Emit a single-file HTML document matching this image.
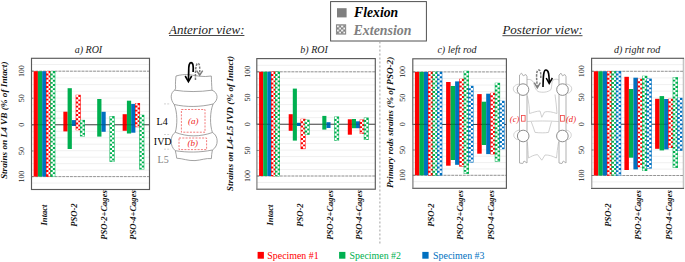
<!DOCTYPE html><html><head><meta charset="utf-8"><style>html,body{margin:0;padding:0;background:#fff;overflow:hidden}svg{display:block}text{font-family:"Liberation Serif",serif}</style></head><body>
<svg width="685" height="262" viewBox="0 0 685 262">
<defs>
<pattern id="pr" width="4.2" height="4.2" patternUnits="userSpaceOnUse"><rect width="4.2" height="4.2" fill="#ff0000"/><rect x="0.1" y="0.1" width="1.9" height="1.9" fill="#fff"/><rect x="2.2" y="2.2" width="1.9" height="1.9" fill="#fff"/></pattern>
<pattern id="pg" width="4.2" height="4.2" patternUnits="userSpaceOnUse"><rect width="4.2" height="4.2" fill="#00b050"/><rect x="0.1" y="0.1" width="1.9" height="1.9" fill="#fff"/><rect x="2.2" y="2.2" width="1.9" height="1.9" fill="#fff"/></pattern>
<pattern id="pb" width="4.2" height="4.2" patternUnits="userSpaceOnUse"><rect width="4.2" height="4.2" fill="#0070c0"/><rect x="0.1" y="0.1" width="1.9" height="1.9" fill="#fff"/><rect x="2.2" y="2.2" width="1.9" height="1.9" fill="#fff"/></pattern>
<pattern id="pk" width="4.2" height="4.2" patternUnits="userSpaceOnUse"><rect width="4.2" height="4.2" fill="#808080"/><rect x="0.1" y="0.1" width="1.9" height="1.9" fill="#fff"/><rect x="2.2" y="2.2" width="1.9" height="1.9" fill="#fff"/></pattern>
<pattern id="qr" width="4" height="4" patternUnits="userSpaceOnUse"><rect width="4" height="4" fill="#ff0000"/><rect width="2" height="2" fill="#fff"/><rect x="2" y="2" width="2" height="2" fill="#fff"/></pattern>
<pattern id="qg" width="4" height="4" patternUnits="userSpaceOnUse"><rect width="4" height="4" fill="#00b050"/><rect width="2" height="2" fill="#fff"/><rect x="2" y="2" width="2" height="2" fill="#fff"/></pattern>
<pattern id="qb" width="4" height="4" patternUnits="userSpaceOnUse"><rect width="4" height="4" fill="#0070c0"/><rect width="2" height="2" fill="#fff"/><rect x="2" y="2" width="2" height="2" fill="#fff"/></pattern>
</defs>
<rect width="685" height="262" fill="#fff"/>
<line x1="31.5" y1="118.1" x2="149.5" y2="118.1" stroke="#ececec" stroke-width="0.8"/>
<line x1="31.5" y1="111.4" x2="149.5" y2="111.4" stroke="#ececec" stroke-width="0.8"/>
<line x1="31.5" y1="104.7" x2="149.5" y2="104.7" stroke="#ececec" stroke-width="0.8"/>
<line x1="31.5" y1="98" x2="149.5" y2="98" stroke="#ececec" stroke-width="0.8"/>
<line x1="31.5" y1="91.3" x2="149.5" y2="91.3" stroke="#ececec" stroke-width="0.8"/>
<line x1="31.5" y1="84.6" x2="149.5" y2="84.6" stroke="#ececec" stroke-width="0.8"/>
<line x1="31.5" y1="77.9" x2="149.5" y2="77.9" stroke="#ececec" stroke-width="0.8"/>
<line x1="31.5" y1="71.2" x2="149.5" y2="71.2" stroke="#ececec" stroke-width="0.8"/>
<line x1="31.5" y1="64.5" x2="149.5" y2="64.5" stroke="#ececec" stroke-width="0.8"/>
<line x1="31.5" y1="131.28" x2="149.5" y2="131.28" stroke="#ececec" stroke-width="0.8"/>
<line x1="31.5" y1="137.75" x2="149.5" y2="137.75" stroke="#ececec" stroke-width="0.8"/>
<line x1="31.5" y1="144.22" x2="149.5" y2="144.22" stroke="#ececec" stroke-width="0.8"/>
<line x1="31.5" y1="150.7" x2="149.5" y2="150.7" stroke="#ececec" stroke-width="0.8"/>
<line x1="31.5" y1="157.18" x2="149.5" y2="157.18" stroke="#ececec" stroke-width="0.8"/>
<line x1="31.5" y1="163.65" x2="149.5" y2="163.65" stroke="#ececec" stroke-width="0.8"/>
<line x1="31.5" y1="170.12" x2="149.5" y2="170.12" stroke="#ececec" stroke-width="0.8"/>
<line x1="31.5" y1="176.6" x2="149.5" y2="176.6" stroke="#ececec" stroke-width="0.8"/>
<line x1="31.5" y1="183.07" x2="149.5" y2="183.07" stroke="#ececec" stroke-width="0.8"/>
<line x1="31.5" y1="71.2" x2="149.5" y2="71.2" stroke="#8a8a8a" stroke-width="0.9" stroke-dasharray="2.85 1"/>
<line x1="31.5" y1="176.6" x2="149.5" y2="176.6" stroke="#8a8a8a" stroke-width="0.9" stroke-dasharray="2.85 1"/>
<line x1="31.5" y1="124.8" x2="149.5" y2="124.8" stroke="#5c5c5c" stroke-width="1.05"/>
<rect x="33.65" y="71.2" width="4.25" height="105.4" fill="#ff0000"/>
<rect x="37.9" y="71.2" width="4.25" height="105.4" fill="#00b050"/>
<rect x="42.15" y="71.2" width="4.25" height="105.4" fill="#0070c0"/>
<rect x="63.35" y="111.7" width="4.25" height="19.7" fill="#ff0000"/>
<rect x="67.6" y="88.2" width="4.25" height="60.8" fill="#00b050"/>
<rect x="71.85" y="120.1" width="4.25" height="5.9" fill="#0070c0"/>
<rect x="97.2" y="99" width="4.25" height="37.6" fill="#00b050"/>
<rect x="101.45" y="111.8" width="4.25" height="20" fill="#0070c0"/>
<rect x="122.65" y="114.2" width="4.25" height="16.6" fill="#ff0000"/>
<rect x="126.9" y="100.7" width="4.25" height="32.8" fill="#00b050"/>
<rect x="131.15" y="103.9" width="4.25" height="28.8" fill="#0070c0"/>
<line x1="31.5" y1="124.8" x2="149.5" y2="124.8" stroke="#000" stroke-opacity="0.22" stroke-width="1.1"/>
<rect x="46" y="71" width="5.05" height="105.8" fill="#ff0000"/>
<path d="M46.52 71.32h2.09v2.2h-2.09zM48.45 73.32h2.09v2.3h-2.09zM46.52 75.42h2.09v2.3h-2.09zM48.45 77.52h2.09v2.3h-2.09zM46.52 79.62h2.09v2.3h-2.09zM48.45 81.72h2.09v2.3h-2.09zM46.52 83.82h2.09v2.3h-2.09zM48.45 85.92h2.09v2.3h-2.09zM46.52 88.02h2.09v2.3h-2.09zM48.45 90.12h2.09v2.3h-2.09zM46.52 92.22h2.09v2.3h-2.09zM48.45 94.32h2.09v2.3h-2.09zM46.52 96.42h2.09v2.3h-2.09zM48.45 98.52h2.09v2.3h-2.09zM46.52 100.62h2.09v2.3h-2.09zM48.45 102.72h2.09v2.3h-2.09zM46.52 104.82h2.09v2.3h-2.09zM48.45 106.92h2.09v2.3h-2.09zM46.52 109.02h2.09v2.3h-2.09zM48.45 111.12h2.09v2.3h-2.09zM46.52 113.22h2.09v2.3h-2.09zM48.45 115.32h2.09v2.3h-2.09zM46.52 117.42h2.09v2.3h-2.09zM48.45 119.52h2.09v2.3h-2.09zM46.52 121.62h2.09v2.3h-2.09zM48.45 123.72h2.09v2.3h-2.09zM46.52 125.82h2.09v2.3h-2.09zM48.45 127.92h2.09v2.3h-2.09zM46.52 130.02h2.09v2.3h-2.09zM48.45 132.12h2.09v2.3h-2.09zM46.52 134.22h2.09v2.3h-2.09zM48.45 136.32h2.09v2.3h-2.09zM46.52 138.42h2.09v2.3h-2.09zM48.45 140.52h2.09v2.3h-2.09zM46.52 142.62h2.09v2.3h-2.09zM48.45 144.72h2.09v2.3h-2.09zM46.52 146.82h2.09v2.3h-2.09zM48.45 148.92h2.09v2.3h-2.09zM46.52 151.02h2.09v2.3h-2.09zM48.45 153.12h2.09v2.3h-2.09zM46.52 155.22h2.09v2.3h-2.09zM48.45 157.32h2.09v2.3h-2.09zM46.52 159.42h2.09v2.3h-2.09zM48.45 161.52h2.09v2.3h-2.09zM46.52 163.62h2.09v2.3h-2.09zM48.45 165.72h2.09v2.3h-2.09zM46.52 167.82h2.09v2.3h-2.09zM48.45 169.92h2.09v2.3h-2.09zM46.52 172.02h2.09v2.3h-2.09zM48.45 174.12h2.09v2.3h-2.09z" fill="#fff"/>
<rect x="50.25" y="71" width="5.05" height="105.8" fill="#00b050"/>
<path d="M50.77 71.32h2.09v2.2h-2.09zM52.7 73.32h2.09v2.3h-2.09zM50.77 75.42h2.09v2.3h-2.09zM52.7 77.52h2.09v2.3h-2.09zM50.77 79.62h2.09v2.3h-2.09zM52.7 81.72h2.09v2.3h-2.09zM50.77 83.82h2.09v2.3h-2.09zM52.7 85.92h2.09v2.3h-2.09zM50.77 88.02h2.09v2.3h-2.09zM52.7 90.12h2.09v2.3h-2.09zM50.77 92.22h2.09v2.3h-2.09zM52.7 94.32h2.09v2.3h-2.09zM50.77 96.42h2.09v2.3h-2.09zM52.7 98.52h2.09v2.3h-2.09zM50.77 100.62h2.09v2.3h-2.09zM52.7 102.72h2.09v2.3h-2.09zM50.77 104.82h2.09v2.3h-2.09zM52.7 106.92h2.09v2.3h-2.09zM50.77 109.02h2.09v2.3h-2.09zM52.7 111.12h2.09v2.3h-2.09zM50.77 113.22h2.09v2.3h-2.09zM52.7 115.32h2.09v2.3h-2.09zM50.77 117.42h2.09v2.3h-2.09zM52.7 119.52h2.09v2.3h-2.09zM50.77 121.62h2.09v2.3h-2.09zM52.7 123.72h2.09v2.3h-2.09zM50.77 125.82h2.09v2.3h-2.09zM52.7 127.92h2.09v2.3h-2.09zM50.77 130.02h2.09v2.3h-2.09zM52.7 132.12h2.09v2.3h-2.09zM50.77 134.22h2.09v2.3h-2.09zM52.7 136.32h2.09v2.3h-2.09zM50.77 138.42h2.09v2.3h-2.09zM52.7 140.52h2.09v2.3h-2.09zM50.77 142.62h2.09v2.3h-2.09zM52.7 144.72h2.09v2.3h-2.09zM50.77 146.82h2.09v2.3h-2.09zM52.7 148.92h2.09v2.3h-2.09zM50.77 151.02h2.09v2.3h-2.09zM52.7 153.12h2.09v2.3h-2.09zM50.77 155.22h2.09v2.3h-2.09zM52.7 157.32h2.09v2.3h-2.09zM50.77 159.42h2.09v2.3h-2.09zM52.7 161.52h2.09v2.3h-2.09zM50.77 163.62h2.09v2.3h-2.09zM52.7 165.72h2.09v2.3h-2.09zM50.77 167.82h2.09v2.3h-2.09zM52.7 169.92h2.09v2.3h-2.09zM50.77 172.02h2.09v2.3h-2.09zM52.7 174.12h2.09v2.3h-2.09z" fill="#fff"/>
<rect x="75.7" y="94.8" width="5.05" height="35.4" fill="#ff0000"/>
<path d="M76.22 95.12h2.08v2.2h-2.08zM78.14 97.12h2.08v2.3h-2.08zM76.22 99.22h2.08v2.3h-2.08zM78.14 101.32h2.08v2.3h-2.08zM76.22 103.42h2.08v2.3h-2.08zM78.14 105.52h2.08v2.3h-2.08zM76.22 107.62h2.08v2.3h-2.08zM78.14 109.72h2.08v2.3h-2.08zM76.22 111.82h2.08v2.3h-2.08zM78.14 113.92h2.08v2.3h-2.08zM76.22 116.02h2.08v2.3h-2.08zM78.14 118.12h2.08v2.3h-2.08zM76.22 120.22h2.08v2.3h-2.08zM78.14 122.32h2.08v2.3h-2.08zM76.22 124.42h2.08v2.3h-2.08zM78.14 126.52h2.08v2.3h-2.08zM76.22 128.62h2.08v1.26h-2.08z" fill="#fff"/>
<rect x="79.95" y="119.9" width="5.05" height="16.5" fill="#00b050"/>
<path d="M80.47 120.22h2.08v2.2h-2.08zM82.39 122.22h2.08v2.3h-2.08zM80.47 124.32h2.08v2.3h-2.08zM82.39 126.42h2.08v2.3h-2.08zM80.47 128.52h2.08v2.3h-2.08zM82.39 130.62h2.08v2.3h-2.08zM80.47 132.72h2.08v2.3h-2.08zM82.39 134.82h2.08v1.26h-2.08z" fill="#fff"/>
<rect x="109.55" y="116.1" width="5.05" height="45.7" fill="#00b050"/>
<path d="M110.07 116.42h2.08v2.2h-2.08zM112 118.42h2.08v2.3h-2.08zM110.07 120.52h2.08v2.3h-2.08zM112 122.62h2.08v2.3h-2.08zM110.07 124.72h2.08v2.3h-2.08zM112 126.82h2.08v2.3h-2.08zM110.07 128.92h2.08v2.3h-2.08zM112 131.02h2.08v2.3h-2.08zM110.07 133.12h2.08v2.3h-2.08zM112 135.22h2.08v2.3h-2.08zM110.07 137.32h2.08v2.3h-2.08zM112 139.42h2.08v2.3h-2.08zM110.07 141.52h2.08v2.3h-2.08zM112 143.62h2.08v2.3h-2.08zM110.07 145.72h2.08v2.3h-2.08zM112 147.82h2.08v2.3h-2.08zM110.07 149.92h2.08v2.3h-2.08zM112 152.02h2.08v2.3h-2.08zM110.07 154.12h2.08v2.3h-2.08zM112 156.22h2.08v2.3h-2.08zM110.07 158.32h2.08v2.3h-2.08zM112 160.42h2.08v1.06h-2.08z" fill="#fff"/>
<rect x="135" y="103" width="5.05" height="24.2" fill="#ff0000"/>
<path d="M135.52 103.32h2.09v2.2h-2.09zM137.44 105.32h2.09v2.3h-2.09zM135.52 107.42h2.09v2.3h-2.09zM137.44 109.52h2.09v2.3h-2.09zM135.52 111.62h2.09v2.3h-2.09zM137.44 113.72h2.09v2.3h-2.09zM135.52 115.82h2.09v2.3h-2.09zM137.44 117.92h2.09v2.3h-2.09zM135.52 120.02h2.09v2.3h-2.09zM137.44 122.12h2.09v2.3h-2.09zM135.52 124.22h2.09v2.3h-2.09zM137.44 126.32h2.09v0.56h-2.09z" fill="#fff"/>
<rect x="139.25" y="114.8" width="5.05" height="54.7" fill="#00b050"/>
<path d="M139.77 115.12h2.09v2.2h-2.09zM141.69 117.12h2.09v2.3h-2.09zM139.77 119.22h2.09v2.3h-2.09zM141.69 121.32h2.09v2.3h-2.09zM139.77 123.42h2.09v2.3h-2.09zM141.69 125.52h2.09v2.3h-2.09zM139.77 127.62h2.09v2.3h-2.09zM141.69 129.72h2.09v2.3h-2.09zM139.77 131.82h2.09v2.3h-2.09zM141.69 133.92h2.09v2.3h-2.09zM139.77 136.02h2.09v2.3h-2.09zM141.69 138.12h2.09v2.3h-2.09zM139.77 140.22h2.09v2.3h-2.09zM141.69 142.32h2.09v2.3h-2.09zM139.77 144.42h2.09v2.3h-2.09zM141.69 146.52h2.09v2.3h-2.09zM139.77 148.62h2.09v2.3h-2.09zM141.69 150.72h2.09v2.3h-2.09zM139.77 152.82h2.09v2.3h-2.09zM141.69 154.92h2.09v2.3h-2.09zM139.77 157.02h2.09v2.3h-2.09zM141.69 159.12h2.09v2.3h-2.09zM139.77 161.22h2.09v2.3h-2.09zM141.69 163.32h2.09v2.3h-2.09zM139.77 165.42h2.09v2.3h-2.09zM141.69 167.52h2.09v1.66h-2.09z" fill="#fff"/>
<rect x="31.5" y="58.3" width="118" height="131.2" fill="none" stroke="#5a5a5a" stroke-width="1.15"/>
<line x1="31.5" y1="71.2" x2="33.5" y2="71.2" stroke="#6e6e6e" stroke-width="0.8"/>
<text transform="translate(24.1,71.2) rotate(-90)" text-anchor="middle" font-size="7.9" fill="#222" text-rendering="geometricPrecision">100</text>
<line x1="31.5" y1="98.2" x2="33.5" y2="98.2" stroke="#6e6e6e" stroke-width="0.8"/>
<text transform="translate(24.1,98.2) rotate(-90)" text-anchor="middle" font-size="7.9" fill="#222" text-rendering="geometricPrecision">50</text>
<line x1="31.5" y1="124.8" x2="33.5" y2="124.8" stroke="#6e6e6e" stroke-width="0.8"/>
<text transform="translate(24.1,124.8) rotate(-90)" text-anchor="middle" font-size="7.9" fill="#222" text-rendering="geometricPrecision">0</text>
<line x1="31.5" y1="151" x2="33.5" y2="151" stroke="#6e6e6e" stroke-width="0.8"/>
<text transform="translate(24.1,151) rotate(-90)" text-anchor="middle" font-size="7.9" fill="#222" text-rendering="geometricPrecision">50</text>
<line x1="31.5" y1="176.6" x2="33.5" y2="176.6" stroke="#6e6e6e" stroke-width="0.8"/>
<text transform="translate(24.1,176.6) rotate(-90)" text-anchor="middle" font-size="7.9" fill="#222" text-rendering="geometricPrecision">100</text>
<line x1="256.8" y1="117.65" x2="375.3" y2="117.65" stroke="#ececec" stroke-width="0.8"/>
<line x1="256.8" y1="111.1" x2="375.3" y2="111.1" stroke="#ececec" stroke-width="0.8"/>
<line x1="256.8" y1="104.55" x2="375.3" y2="104.55" stroke="#ececec" stroke-width="0.8"/>
<line x1="256.8" y1="98" x2="375.3" y2="98" stroke="#ececec" stroke-width="0.8"/>
<line x1="256.8" y1="91.45" x2="375.3" y2="91.45" stroke="#ececec" stroke-width="0.8"/>
<line x1="256.8" y1="84.9" x2="375.3" y2="84.9" stroke="#ececec" stroke-width="0.8"/>
<line x1="256.8" y1="78.35" x2="375.3" y2="78.35" stroke="#ececec" stroke-width="0.8"/>
<line x1="256.8" y1="71.8" x2="375.3" y2="71.8" stroke="#ececec" stroke-width="0.8"/>
<line x1="256.8" y1="65.25" x2="375.3" y2="65.25" stroke="#ececec" stroke-width="0.8"/>
<line x1="256.8" y1="130.68" x2="375.3" y2="130.68" stroke="#ececec" stroke-width="0.8"/>
<line x1="256.8" y1="137.15" x2="375.3" y2="137.15" stroke="#ececec" stroke-width="0.8"/>
<line x1="256.8" y1="143.62" x2="375.3" y2="143.62" stroke="#ececec" stroke-width="0.8"/>
<line x1="256.8" y1="150.1" x2="375.3" y2="150.1" stroke="#ececec" stroke-width="0.8"/>
<line x1="256.8" y1="156.57" x2="375.3" y2="156.57" stroke="#ececec" stroke-width="0.8"/>
<line x1="256.8" y1="163.05" x2="375.3" y2="163.05" stroke="#ececec" stroke-width="0.8"/>
<line x1="256.8" y1="169.53" x2="375.3" y2="169.53" stroke="#ececec" stroke-width="0.8"/>
<line x1="256.8" y1="176" x2="375.3" y2="176" stroke="#ececec" stroke-width="0.8"/>
<line x1="256.8" y1="182.47" x2="375.3" y2="182.47" stroke="#ececec" stroke-width="0.8"/>
<line x1="256.8" y1="71.8" x2="375.3" y2="71.8" stroke="#8a8a8a" stroke-width="0.9" stroke-dasharray="2.85 1"/>
<line x1="256.8" y1="176" x2="375.3" y2="176" stroke="#8a8a8a" stroke-width="0.9" stroke-dasharray="2.85 1"/>
<line x1="256.8" y1="124.2" x2="375.3" y2="124.2" stroke="#5c5c5c" stroke-width="1.05"/>
<rect x="259.1" y="71.8" width="4.1" height="104.2" fill="#ff0000"/>
<rect x="263.2" y="71.8" width="4.1" height="104.2" fill="#00b050"/>
<rect x="267.3" y="71.8" width="4.1" height="104.2" fill="#0070c0"/>
<rect x="288.7" y="114.2" width="4.1" height="16.6" fill="#ff0000"/>
<rect x="292.8" y="88.6" width="4.1" height="52" fill="#00b050"/>
<rect x="296.9" y="122.8" width="4.1" height="3.2" fill="#0070c0"/>
<rect x="322.3" y="115.9" width="4.1" height="13.7" fill="#00b050"/>
<rect x="326.4" y="122.2" width="4.1" height="5.8" fill="#0070c0"/>
<rect x="347.8" y="119.3" width="4.1" height="15.4" fill="#ff0000"/>
<rect x="351.9" y="119" width="4.1" height="9.2" fill="#00b050"/>
<rect x="356" y="121.3" width="4.1" height="6.9" fill="#0070c0"/>
<line x1="256.8" y1="124.2" x2="375.3" y2="124.2" stroke="#000" stroke-opacity="0.22" stroke-width="1.1"/>
<rect x="271" y="71.6" width="4.9" height="104.6" fill="#ff0000"/>
<path d="M271.52 71.92h2.01v2.2h-2.01zM273.37 73.92h2.01v2.3h-2.01zM271.52 76.02h2.01v2.3h-2.01zM273.37 78.12h2.01v2.3h-2.01zM271.52 80.22h2.01v2.3h-2.01zM273.37 82.32h2.01v2.3h-2.01zM271.52 84.42h2.01v2.3h-2.01zM273.37 86.52h2.01v2.3h-2.01zM271.52 88.62h2.01v2.3h-2.01zM273.37 90.72h2.01v2.3h-2.01zM271.52 92.82h2.01v2.3h-2.01zM273.37 94.92h2.01v2.3h-2.01zM271.52 97.02h2.01v2.3h-2.01zM273.37 99.12h2.01v2.3h-2.01zM271.52 101.22h2.01v2.3h-2.01zM273.37 103.32h2.01v2.3h-2.01zM271.52 105.42h2.01v2.3h-2.01zM273.37 107.52h2.01v2.3h-2.01zM271.52 109.62h2.01v2.3h-2.01zM273.37 111.72h2.01v2.3h-2.01zM271.52 113.82h2.01v2.3h-2.01zM273.37 115.92h2.01v2.3h-2.01zM271.52 118.02h2.01v2.3h-2.01zM273.37 120.12h2.01v2.3h-2.01zM271.52 122.22h2.01v2.3h-2.01zM273.37 124.32h2.01v2.3h-2.01zM271.52 126.42h2.01v2.3h-2.01zM273.37 128.52h2.01v2.3h-2.01zM271.52 130.62h2.01v2.3h-2.01zM273.37 132.72h2.01v2.3h-2.01zM271.52 134.82h2.01v2.3h-2.01zM273.37 136.92h2.01v2.3h-2.01zM271.52 139.02h2.01v2.3h-2.01zM273.37 141.12h2.01v2.3h-2.01zM271.52 143.22h2.01v2.3h-2.01zM273.37 145.32h2.01v2.3h-2.01zM271.52 147.42h2.01v2.3h-2.01zM273.37 149.52h2.01v2.3h-2.01zM271.52 151.62h2.01v2.3h-2.01zM273.37 153.72h2.01v2.3h-2.01zM271.52 155.82h2.01v2.3h-2.01zM273.37 157.92h2.01v2.3h-2.01zM271.52 160.02h2.01v2.3h-2.01zM273.37 162.12h2.01v2.3h-2.01zM271.52 164.22h2.01v2.3h-2.01zM273.37 166.32h2.01v2.3h-2.01zM271.52 168.42h2.01v2.3h-2.01zM273.37 170.52h2.01v2.3h-2.01zM271.52 172.62h2.01v2.3h-2.01zM273.37 174.72h2.01v1.16h-2.01z" fill="#fff"/>
<rect x="275.1" y="71.6" width="4.9" height="104.6" fill="#00b050"/>
<path d="M275.62 71.92h2.01v2.2h-2.01zM277.47 73.92h2.01v2.3h-2.01zM275.62 76.02h2.01v2.3h-2.01zM277.47 78.12h2.01v2.3h-2.01zM275.62 80.22h2.01v2.3h-2.01zM277.47 82.32h2.01v2.3h-2.01zM275.62 84.42h2.01v2.3h-2.01zM277.47 86.52h2.01v2.3h-2.01zM275.62 88.62h2.01v2.3h-2.01zM277.47 90.72h2.01v2.3h-2.01zM275.62 92.82h2.01v2.3h-2.01zM277.47 94.92h2.01v2.3h-2.01zM275.62 97.02h2.01v2.3h-2.01zM277.47 99.12h2.01v2.3h-2.01zM275.62 101.22h2.01v2.3h-2.01zM277.47 103.32h2.01v2.3h-2.01zM275.62 105.42h2.01v2.3h-2.01zM277.47 107.52h2.01v2.3h-2.01zM275.62 109.62h2.01v2.3h-2.01zM277.47 111.72h2.01v2.3h-2.01zM275.62 113.82h2.01v2.3h-2.01zM277.47 115.92h2.01v2.3h-2.01zM275.62 118.02h2.01v2.3h-2.01zM277.47 120.12h2.01v2.3h-2.01zM275.62 122.22h2.01v2.3h-2.01zM277.47 124.32h2.01v2.3h-2.01zM275.62 126.42h2.01v2.3h-2.01zM277.47 128.52h2.01v2.3h-2.01zM275.62 130.62h2.01v2.3h-2.01zM277.47 132.72h2.01v2.3h-2.01zM275.62 134.82h2.01v2.3h-2.01zM277.47 136.92h2.01v2.3h-2.01zM275.62 139.02h2.01v2.3h-2.01zM277.47 141.12h2.01v2.3h-2.01zM275.62 143.22h2.01v2.3h-2.01zM277.47 145.32h2.01v2.3h-2.01zM275.62 147.42h2.01v2.3h-2.01zM277.47 149.52h2.01v2.3h-2.01zM275.62 151.62h2.01v2.3h-2.01zM277.47 153.72h2.01v2.3h-2.01zM275.62 155.82h2.01v2.3h-2.01zM277.47 157.92h2.01v2.3h-2.01zM275.62 160.02h2.01v2.3h-2.01zM277.47 162.12h2.01v2.3h-2.01zM275.62 164.22h2.01v2.3h-2.01zM277.47 166.32h2.01v2.3h-2.01zM275.62 168.42h2.01v2.3h-2.01zM277.47 170.52h2.01v2.3h-2.01zM275.62 172.62h2.01v2.3h-2.01zM277.47 174.72h2.01v1.16h-2.01z" fill="#fff"/>
<rect x="300.6" y="118.8" width="4.9" height="30.3" fill="#ff0000"/>
<path d="M301.12 119.12h2.01v2.2h-2.01zM302.97 121.12h2.01v2.3h-2.01zM301.12 123.22h2.01v2.3h-2.01zM302.97 125.32h2.01v2.3h-2.01zM301.12 127.42h2.01v2.3h-2.01zM302.97 129.52h2.01v2.3h-2.01zM301.12 131.62h2.01v2.3h-2.01zM302.97 133.72h2.01v2.3h-2.01zM301.12 135.82h2.01v2.3h-2.01zM302.97 137.92h2.01v2.3h-2.01zM301.12 140.02h2.01v2.3h-2.01zM302.97 142.12h2.01v2.3h-2.01zM301.12 144.22h2.01v2.3h-2.01zM302.97 146.32h2.01v2.3h-2.01z" fill="#fff"/>
<rect x="304.7" y="119.7" width="4.9" height="15.1" fill="#00b050"/>
<path d="M305.22 120.02h2.01v2.2h-2.01zM307.07 122.02h2.01v2.3h-2.01zM305.22 124.12h2.01v2.3h-2.01zM307.07 126.22h2.01v2.3h-2.01zM305.22 128.32h2.01v2.3h-2.01zM307.07 130.42h2.01v2.3h-2.01zM305.22 132.52h2.01v1.96h-2.01z" fill="#fff"/>
<rect x="334.2" y="116.5" width="4.9" height="24.2" fill="#00b050"/>
<path d="M334.72 116.82h2.01v2.2h-2.01zM336.57 118.82h2.01v2.3h-2.01zM334.72 120.92h2.01v2.3h-2.01zM336.57 123.02h2.01v2.3h-2.01zM334.72 125.12h2.01v2.3h-2.01zM336.57 127.22h2.01v2.3h-2.01zM334.72 129.32h2.01v2.3h-2.01zM336.57 131.42h2.01v2.3h-2.01zM334.72 133.52h2.01v2.3h-2.01zM336.57 135.62h2.01v2.3h-2.01zM334.72 137.72h2.01v2.3h-2.01zM336.57 139.82h2.01v0.56h-2.01z" fill="#fff"/>
<rect x="359.7" y="119.5" width="4.9" height="14.3" fill="#ff0000"/>
<path d="M360.22 119.82h2.01v2.2h-2.01zM362.07 121.82h2.01v2.3h-2.01zM360.22 123.92h2.01v2.3h-2.01zM362.07 126.02h2.01v2.3h-2.01zM360.22 128.12h2.01v2.3h-2.01zM362.07 130.22h2.01v2.3h-2.01zM360.22 132.32h2.01v1.16h-2.01z" fill="#fff"/>
<rect x="363.8" y="117.6" width="4.9" height="22.3" fill="#00b050"/>
<path d="M364.32 117.92h2.01v2.2h-2.01zM366.17 119.92h2.01v2.3h-2.01zM364.32 122.02h2.01v2.3h-2.01zM366.17 124.12h2.01v2.3h-2.01zM364.32 126.22h2.01v2.3h-2.01zM366.17 128.32h2.01v2.3h-2.01zM364.32 130.42h2.01v2.3h-2.01zM366.17 132.52h2.01v2.3h-2.01zM364.32 134.62h2.01v2.3h-2.01zM366.17 136.72h2.01v2.3h-2.01zM364.32 138.82h2.01v0.76h-2.01z" fill="#fff"/>
<rect x="256.8" y="58.6" width="118.5" height="130.6" fill="none" stroke="#5a5a5a" stroke-width="1.15"/>
<line x1="256.8" y1="124.8" x2="256.8" y2="188.7" stroke="#b4b4b4" stroke-width="1.05"/>
<line x1="256.8" y1="71.8" x2="258.8" y2="71.8" stroke="#6e6e6e" stroke-width="0.8"/>
<text transform="translate(249.6,71.8) rotate(-90)" text-anchor="middle" font-size="7.9" fill="#222" text-rendering="geometricPrecision">100</text>
<line x1="256.8" y1="97.5" x2="258.8" y2="97.5" stroke="#6e6e6e" stroke-width="0.8"/>
<text transform="translate(249.6,97.5) rotate(-90)" text-anchor="middle" font-size="7.9" fill="#222" text-rendering="geometricPrecision">50</text>
<line x1="256.8" y1="124.2" x2="258.8" y2="124.2" stroke="#6e6e6e" stroke-width="0.8"/>
<text transform="translate(249.6,124.2) rotate(-90)" text-anchor="middle" font-size="7.9" fill="#222" text-rendering="geometricPrecision">0</text>
<line x1="256.8" y1="150.5" x2="258.8" y2="150.5" stroke="#6e6e6e" stroke-width="0.8"/>
<text transform="translate(249.6,150.5) rotate(-90)" text-anchor="middle" font-size="7.9" fill="#222" text-rendering="geometricPrecision">50</text>
<line x1="256.8" y1="176" x2="258.8" y2="176" stroke="#6e6e6e" stroke-width="0.8"/>
<text transform="translate(249.6,176) rotate(-90)" text-anchor="middle" font-size="7.9" fill="#222" text-rendering="geometricPrecision">100</text>
<line x1="412.8" y1="117.84" x2="506.4" y2="117.84" stroke="#ececec" stroke-width="0.8"/>
<line x1="412.8" y1="111.28" x2="506.4" y2="111.28" stroke="#ececec" stroke-width="0.8"/>
<line x1="412.8" y1="104.71" x2="506.4" y2="104.71" stroke="#ececec" stroke-width="0.8"/>
<line x1="412.8" y1="98.15" x2="506.4" y2="98.15" stroke="#ececec" stroke-width="0.8"/>
<line x1="412.8" y1="91.59" x2="506.4" y2="91.59" stroke="#ececec" stroke-width="0.8"/>
<line x1="412.8" y1="85.03" x2="506.4" y2="85.03" stroke="#ececec" stroke-width="0.8"/>
<line x1="412.8" y1="78.46" x2="506.4" y2="78.46" stroke="#ececec" stroke-width="0.8"/>
<line x1="412.8" y1="71.9" x2="506.4" y2="71.9" stroke="#ececec" stroke-width="0.8"/>
<line x1="412.8" y1="65.34" x2="506.4" y2="65.34" stroke="#ececec" stroke-width="0.8"/>
<line x1="412.8" y1="130.76" x2="506.4" y2="130.76" stroke="#ececec" stroke-width="0.8"/>
<line x1="412.8" y1="137.12" x2="506.4" y2="137.12" stroke="#ececec" stroke-width="0.8"/>
<line x1="412.8" y1="143.49" x2="506.4" y2="143.49" stroke="#ececec" stroke-width="0.8"/>
<line x1="412.8" y1="149.85" x2="506.4" y2="149.85" stroke="#ececec" stroke-width="0.8"/>
<line x1="412.8" y1="156.21" x2="506.4" y2="156.21" stroke="#ececec" stroke-width="0.8"/>
<line x1="412.8" y1="162.58" x2="506.4" y2="162.58" stroke="#ececec" stroke-width="0.8"/>
<line x1="412.8" y1="168.94" x2="506.4" y2="168.94" stroke="#ececec" stroke-width="0.8"/>
<line x1="412.8" y1="175.3" x2="506.4" y2="175.3" stroke="#ececec" stroke-width="0.8"/>
<line x1="412.8" y1="181.66" x2="506.4" y2="181.66" stroke="#ececec" stroke-width="0.8"/>
<line x1="412.8" y1="71.9" x2="506.4" y2="71.9" stroke="#8a8a8a" stroke-width="0.9" stroke-dasharray="2.85 1"/>
<line x1="412.8" y1="175.3" x2="506.4" y2="175.3" stroke="#8a8a8a" stroke-width="0.9" stroke-dasharray="2.85 1"/>
<line x1="412.8" y1="124.4" x2="506.4" y2="124.4" stroke="#5c5c5c" stroke-width="1.05"/>
<rect x="414.9" y="71.9" width="4.5" height="103.4" fill="#ff0000"/>
<rect x="419.4" y="71.9" width="4.5" height="103.4" fill="#00b050"/>
<rect x="423.9" y="71.9" width="4.5" height="103.4" fill="#0070c0"/>
<rect x="446.1" y="82" width="4.5" height="83.7" fill="#ff0000"/>
<rect x="450.6" y="86" width="4.5" height="74" fill="#00b050"/>
<rect x="455.1" y="81.4" width="4.5" height="83.4" fill="#0070c0"/>
<rect x="477.2" y="94.1" width="4.5" height="59.6" fill="#ff0000"/>
<rect x="481.7" y="101.7" width="4.5" height="43.3" fill="#00b050"/>
<rect x="486.2" y="93.7" width="4.5" height="60.4" fill="#0070c0"/>
<line x1="412.8" y1="124.4" x2="506.4" y2="124.4" stroke="#000" stroke-opacity="0.22" stroke-width="1.1"/>
<rect x="428" y="71.7" width="5.3" height="103.8" fill="#ff0000"/>
<path d="M428.52 72.02h2.21v2.2h-2.21zM430.57 74.02h2.21v2.3h-2.21zM428.52 76.12h2.21v2.3h-2.21zM430.57 78.22h2.21v2.3h-2.21zM428.52 80.32h2.21v2.3h-2.21zM430.57 82.42h2.21v2.3h-2.21zM428.52 84.52h2.21v2.3h-2.21zM430.57 86.62h2.21v2.3h-2.21zM428.52 88.72h2.21v2.3h-2.21zM430.57 90.82h2.21v2.3h-2.21zM428.52 92.92h2.21v2.3h-2.21zM430.57 95.02h2.21v2.3h-2.21zM428.52 97.12h2.21v2.3h-2.21zM430.57 99.22h2.21v2.3h-2.21zM428.52 101.32h2.21v2.3h-2.21zM430.57 103.42h2.21v2.3h-2.21zM428.52 105.52h2.21v2.3h-2.21zM430.57 107.62h2.21v2.3h-2.21zM428.52 109.72h2.21v2.3h-2.21zM430.57 111.82h2.21v2.3h-2.21zM428.52 113.92h2.21v2.3h-2.21zM430.57 116.02h2.21v2.3h-2.21zM428.52 118.12h2.21v2.3h-2.21zM430.57 120.22h2.21v2.3h-2.21zM428.52 122.32h2.21v2.3h-2.21zM430.57 124.42h2.21v2.3h-2.21zM428.52 126.52h2.21v2.3h-2.21zM430.57 128.62h2.21v2.3h-2.21zM428.52 130.72h2.21v2.3h-2.21zM430.57 132.82h2.21v2.3h-2.21zM428.52 134.92h2.21v2.3h-2.21zM430.57 137.02h2.21v2.3h-2.21zM428.52 139.12h2.21v2.3h-2.21zM430.57 141.22h2.21v2.3h-2.21zM428.52 143.32h2.21v2.3h-2.21zM430.57 145.42h2.21v2.3h-2.21zM428.52 147.52h2.21v2.3h-2.21zM430.57 149.62h2.21v2.3h-2.21zM428.52 151.72h2.21v2.3h-2.21zM430.57 153.82h2.21v2.3h-2.21zM428.52 155.92h2.21v2.3h-2.21zM430.57 158.02h2.21v2.3h-2.21zM428.52 160.12h2.21v2.3h-2.21zM430.57 162.22h2.21v2.3h-2.21zM428.52 164.32h2.21v2.3h-2.21zM430.57 166.42h2.21v2.3h-2.21zM428.52 168.52h2.21v2.3h-2.21zM430.57 170.62h2.21v2.3h-2.21zM428.52 172.72h2.21v2.3h-2.21z" fill="#fff"/>
<rect x="432.5" y="71.7" width="5.3" height="103.8" fill="#00b050"/>
<path d="M433.02 72.02h2.21v2.2h-2.21zM435.07 74.02h2.21v2.3h-2.21zM433.02 76.12h2.21v2.3h-2.21zM435.07 78.22h2.21v2.3h-2.21zM433.02 80.32h2.21v2.3h-2.21zM435.07 82.42h2.21v2.3h-2.21zM433.02 84.52h2.21v2.3h-2.21zM435.07 86.62h2.21v2.3h-2.21zM433.02 88.72h2.21v2.3h-2.21zM435.07 90.82h2.21v2.3h-2.21zM433.02 92.92h2.21v2.3h-2.21zM435.07 95.02h2.21v2.3h-2.21zM433.02 97.12h2.21v2.3h-2.21zM435.07 99.22h2.21v2.3h-2.21zM433.02 101.32h2.21v2.3h-2.21zM435.07 103.42h2.21v2.3h-2.21zM433.02 105.52h2.21v2.3h-2.21zM435.07 107.62h2.21v2.3h-2.21zM433.02 109.72h2.21v2.3h-2.21zM435.07 111.82h2.21v2.3h-2.21zM433.02 113.92h2.21v2.3h-2.21zM435.07 116.02h2.21v2.3h-2.21zM433.02 118.12h2.21v2.3h-2.21zM435.07 120.22h2.21v2.3h-2.21zM433.02 122.32h2.21v2.3h-2.21zM435.07 124.42h2.21v2.3h-2.21zM433.02 126.52h2.21v2.3h-2.21zM435.07 128.62h2.21v2.3h-2.21zM433.02 130.72h2.21v2.3h-2.21zM435.07 132.82h2.21v2.3h-2.21zM433.02 134.92h2.21v2.3h-2.21zM435.07 137.02h2.21v2.3h-2.21zM433.02 139.12h2.21v2.3h-2.21zM435.07 141.22h2.21v2.3h-2.21zM433.02 143.32h2.21v2.3h-2.21zM435.07 145.42h2.21v2.3h-2.21zM433.02 147.52h2.21v2.3h-2.21zM435.07 149.62h2.21v2.3h-2.21zM433.02 151.72h2.21v2.3h-2.21zM435.07 153.82h2.21v2.3h-2.21zM433.02 155.92h2.21v2.3h-2.21zM435.07 158.02h2.21v2.3h-2.21zM433.02 160.12h2.21v2.3h-2.21zM435.07 162.22h2.21v2.3h-2.21zM433.02 164.32h2.21v2.3h-2.21zM435.07 166.42h2.21v2.3h-2.21zM433.02 168.52h2.21v2.3h-2.21zM435.07 170.62h2.21v2.3h-2.21zM433.02 172.72h2.21v2.3h-2.21z" fill="#fff"/>
<rect x="437" y="71.7" width="5.3" height="103.8" fill="#0070c0"/>
<path d="M437.52 72.02h2.21v2.2h-2.21zM439.57 74.02h2.21v2.3h-2.21zM437.52 76.12h2.21v2.3h-2.21zM439.57 78.22h2.21v2.3h-2.21zM437.52 80.32h2.21v2.3h-2.21zM439.57 82.42h2.21v2.3h-2.21zM437.52 84.52h2.21v2.3h-2.21zM439.57 86.62h2.21v2.3h-2.21zM437.52 88.72h2.21v2.3h-2.21zM439.57 90.82h2.21v2.3h-2.21zM437.52 92.92h2.21v2.3h-2.21zM439.57 95.02h2.21v2.3h-2.21zM437.52 97.12h2.21v2.3h-2.21zM439.57 99.22h2.21v2.3h-2.21zM437.52 101.32h2.21v2.3h-2.21zM439.57 103.42h2.21v2.3h-2.21zM437.52 105.52h2.21v2.3h-2.21zM439.57 107.62h2.21v2.3h-2.21zM437.52 109.72h2.21v2.3h-2.21zM439.57 111.82h2.21v2.3h-2.21zM437.52 113.92h2.21v2.3h-2.21zM439.57 116.02h2.21v2.3h-2.21zM437.52 118.12h2.21v2.3h-2.21zM439.57 120.22h2.21v2.3h-2.21zM437.52 122.32h2.21v2.3h-2.21zM439.57 124.42h2.21v2.3h-2.21zM437.52 126.52h2.21v2.3h-2.21zM439.57 128.62h2.21v2.3h-2.21zM437.52 130.72h2.21v2.3h-2.21zM439.57 132.82h2.21v2.3h-2.21zM437.52 134.92h2.21v2.3h-2.21zM439.57 137.02h2.21v2.3h-2.21zM437.52 139.12h2.21v2.3h-2.21zM439.57 141.22h2.21v2.3h-2.21zM437.52 143.32h2.21v2.3h-2.21zM439.57 145.42h2.21v2.3h-2.21zM437.52 147.52h2.21v2.3h-2.21zM439.57 149.62h2.21v2.3h-2.21zM437.52 151.72h2.21v2.3h-2.21zM439.57 153.82h2.21v2.3h-2.21zM437.52 155.92h2.21v2.3h-2.21zM439.57 158.02h2.21v2.3h-2.21zM437.52 160.12h2.21v2.3h-2.21zM439.57 162.22h2.21v2.3h-2.21zM437.52 164.32h2.21v2.3h-2.21zM439.57 166.42h2.21v2.3h-2.21zM437.52 168.52h2.21v2.3h-2.21zM439.57 170.62h2.21v2.3h-2.21zM437.52 172.72h2.21v2.3h-2.21z" fill="#fff"/>
<rect x="459.2" y="78.8" width="5.3" height="87.8" fill="#ff0000"/>
<path d="M459.72 79.12h2.21v2.2h-2.21zM461.77 81.12h2.21v2.3h-2.21zM459.72 83.22h2.21v2.3h-2.21zM461.77 85.32h2.21v2.3h-2.21zM459.72 87.42h2.21v2.3h-2.21zM461.77 89.52h2.21v2.3h-2.21zM459.72 91.62h2.21v2.3h-2.21zM461.77 93.72h2.21v2.3h-2.21zM459.72 95.82h2.21v2.3h-2.21zM461.77 97.92h2.21v2.3h-2.21zM459.72 100.02h2.21v2.3h-2.21zM461.77 102.12h2.21v2.3h-2.21zM459.72 104.22h2.21v2.3h-2.21zM461.77 106.32h2.21v2.3h-2.21zM459.72 108.42h2.21v2.3h-2.21zM461.77 110.52h2.21v2.3h-2.21zM459.72 112.62h2.21v2.3h-2.21zM461.77 114.72h2.21v2.3h-2.21zM459.72 116.82h2.21v2.3h-2.21zM461.77 118.92h2.21v2.3h-2.21zM459.72 121.02h2.21v2.3h-2.21zM461.77 123.12h2.21v2.3h-2.21zM459.72 125.22h2.21v2.3h-2.21zM461.77 127.32h2.21v2.3h-2.21zM459.72 129.42h2.21v2.3h-2.21zM461.77 131.52h2.21v2.3h-2.21zM459.72 133.62h2.21v2.3h-2.21zM461.77 135.72h2.21v2.3h-2.21zM459.72 137.82h2.21v2.3h-2.21zM461.77 139.92h2.21v2.3h-2.21zM459.72 142.02h2.21v2.3h-2.21zM461.77 144.12h2.21v2.3h-2.21zM459.72 146.22h2.21v2.3h-2.21zM461.77 148.32h2.21v2.3h-2.21zM459.72 150.42h2.21v2.3h-2.21zM461.77 152.52h2.21v2.3h-2.21zM459.72 154.62h2.21v2.3h-2.21zM461.77 156.72h2.21v2.3h-2.21zM459.72 158.82h2.21v2.3h-2.21zM461.77 160.92h2.21v2.3h-2.21zM459.72 163.02h2.21v2.3h-2.21zM461.77 165.12h2.21v1.16h-2.21z" fill="#fff"/>
<rect x="463.7" y="70.8" width="5.3" height="103.1" fill="#00b050"/>
<path d="M464.22 71.12h2.21v2.2h-2.21zM466.27 73.12h2.21v2.3h-2.21zM464.22 75.22h2.21v2.3h-2.21zM466.27 77.32h2.21v2.3h-2.21zM464.22 79.42h2.21v2.3h-2.21zM466.27 81.52h2.21v2.3h-2.21zM464.22 83.62h2.21v2.3h-2.21zM466.27 85.72h2.21v2.3h-2.21zM464.22 87.82h2.21v2.3h-2.21zM466.27 89.92h2.21v2.3h-2.21zM464.22 92.02h2.21v2.3h-2.21zM466.27 94.12h2.21v2.3h-2.21zM464.22 96.22h2.21v2.3h-2.21zM466.27 98.32h2.21v2.3h-2.21zM464.22 100.42h2.21v2.3h-2.21zM466.27 102.52h2.21v2.3h-2.21zM464.22 104.62h2.21v2.3h-2.21zM466.27 106.72h2.21v2.3h-2.21zM464.22 108.82h2.21v2.3h-2.21zM466.27 110.92h2.21v2.3h-2.21zM464.22 113.02h2.21v2.3h-2.21zM466.27 115.12h2.21v2.3h-2.21zM464.22 117.22h2.21v2.3h-2.21zM466.27 119.32h2.21v2.3h-2.21zM464.22 121.42h2.21v2.3h-2.21zM466.27 123.52h2.21v2.3h-2.21zM464.22 125.62h2.21v2.3h-2.21zM466.27 127.72h2.21v2.3h-2.21zM464.22 129.82h2.21v2.3h-2.21zM466.27 131.92h2.21v2.3h-2.21zM464.22 134.02h2.21v2.3h-2.21zM466.27 136.12h2.21v2.3h-2.21zM464.22 138.22h2.21v2.3h-2.21zM466.27 140.32h2.21v2.3h-2.21zM464.22 142.42h2.21v2.3h-2.21zM466.27 144.52h2.21v2.3h-2.21zM464.22 146.62h2.21v2.3h-2.21zM466.27 148.72h2.21v2.3h-2.21zM464.22 150.82h2.21v2.3h-2.21zM466.27 152.92h2.21v2.3h-2.21zM464.22 155.02h2.21v2.3h-2.21zM466.27 157.12h2.21v2.3h-2.21zM464.22 159.22h2.21v2.3h-2.21zM466.27 161.32h2.21v2.3h-2.21zM464.22 163.42h2.21v2.3h-2.21zM466.27 165.52h2.21v2.3h-2.21zM464.22 167.62h2.21v2.3h-2.21zM466.27 169.72h2.21v2.3h-2.21zM464.22 171.82h2.21v1.76h-2.21z" fill="#fff"/>
<rect x="468.2" y="85.8" width="5.3" height="76.8" fill="#0070c0"/>
<path d="M468.72 86.12h2.21v2.2h-2.21zM470.77 88.12h2.21v2.3h-2.21zM468.72 90.22h2.21v2.3h-2.21zM470.77 92.32h2.21v2.3h-2.21zM468.72 94.42h2.21v2.3h-2.21zM470.77 96.52h2.21v2.3h-2.21zM468.72 98.62h2.21v2.3h-2.21zM470.77 100.72h2.21v2.3h-2.21zM468.72 102.82h2.21v2.3h-2.21zM470.77 104.92h2.21v2.3h-2.21zM468.72 107.02h2.21v2.3h-2.21zM470.77 109.12h2.21v2.3h-2.21zM468.72 111.22h2.21v2.3h-2.21zM470.77 113.32h2.21v2.3h-2.21zM468.72 115.42h2.21v2.3h-2.21zM470.77 117.52h2.21v2.3h-2.21zM468.72 119.62h2.21v2.3h-2.21zM470.77 121.72h2.21v2.3h-2.21zM468.72 123.82h2.21v2.3h-2.21zM470.77 125.92h2.21v2.3h-2.21zM468.72 128.02h2.21v2.3h-2.21zM470.77 130.12h2.21v2.3h-2.21zM468.72 132.22h2.21v2.3h-2.21zM470.77 134.32h2.21v2.3h-2.21zM468.72 136.42h2.21v2.3h-2.21zM470.77 138.52h2.21v2.3h-2.21zM468.72 140.62h2.21v2.3h-2.21zM470.77 142.72h2.21v2.3h-2.21zM468.72 144.82h2.21v2.3h-2.21zM470.77 146.92h2.21v2.3h-2.21zM468.72 149.02h2.21v2.3h-2.21zM470.77 151.12h2.21v2.3h-2.21zM468.72 153.22h2.21v2.3h-2.21zM470.77 155.32h2.21v2.3h-2.21zM468.72 157.42h2.21v2.3h-2.21zM470.77 159.52h2.21v2.3h-2.21zM468.72 161.62h2.21v0.66h-2.21z" fill="#fff"/>
<rect x="490.3" y="92.8" width="5.3" height="61.5" fill="#ff0000"/>
<path d="M490.82 93.12h2.21v2.2h-2.21zM492.87 95.12h2.21v2.3h-2.21zM490.82 97.22h2.21v2.3h-2.21zM492.87 99.32h2.21v2.3h-2.21zM490.82 101.42h2.21v2.3h-2.21zM492.87 103.52h2.21v2.3h-2.21zM490.82 105.62h2.21v2.3h-2.21zM492.87 107.72h2.21v2.3h-2.21zM490.82 109.82h2.21v2.3h-2.21zM492.87 111.92h2.21v2.3h-2.21zM490.82 114.02h2.21v2.3h-2.21zM492.87 116.12h2.21v2.3h-2.21zM490.82 118.22h2.21v2.3h-2.21zM492.87 120.32h2.21v2.3h-2.21zM490.82 122.42h2.21v2.3h-2.21zM492.87 124.52h2.21v2.3h-2.21zM490.82 126.62h2.21v2.3h-2.21zM492.87 128.72h2.21v2.3h-2.21zM490.82 130.82h2.21v2.3h-2.21zM492.87 132.92h2.21v2.3h-2.21zM490.82 135.02h2.21v2.3h-2.21zM492.87 137.12h2.21v2.3h-2.21zM490.82 139.22h2.21v2.3h-2.21zM492.87 141.32h2.21v2.3h-2.21zM490.82 143.42h2.21v2.3h-2.21zM492.87 145.52h2.21v2.3h-2.21zM490.82 147.62h2.21v2.3h-2.21zM492.87 149.72h2.21v2.3h-2.21zM490.82 151.82h2.21v2.16h-2.21z" fill="#fff"/>
<rect x="494.8" y="82.8" width="5.3" height="78.8" fill="#00b050"/>
<path d="M495.32 83.12h2.21v2.2h-2.21zM497.37 85.12h2.21v2.3h-2.21zM495.32 87.22h2.21v2.3h-2.21zM497.37 89.32h2.21v2.3h-2.21zM495.32 91.42h2.21v2.3h-2.21zM497.37 93.52h2.21v2.3h-2.21zM495.32 95.62h2.21v2.3h-2.21zM497.37 97.72h2.21v2.3h-2.21zM495.32 99.82h2.21v2.3h-2.21zM497.37 101.92h2.21v2.3h-2.21zM495.32 104.02h2.21v2.3h-2.21zM497.37 106.12h2.21v2.3h-2.21zM495.32 108.22h2.21v2.3h-2.21zM497.37 110.32h2.21v2.3h-2.21zM495.32 112.42h2.21v2.3h-2.21zM497.37 114.52h2.21v2.3h-2.21zM495.32 116.62h2.21v2.3h-2.21zM497.37 118.72h2.21v2.3h-2.21zM495.32 120.82h2.21v2.3h-2.21zM497.37 122.92h2.21v2.3h-2.21zM495.32 125.02h2.21v2.3h-2.21zM497.37 127.12h2.21v2.3h-2.21zM495.32 129.22h2.21v2.3h-2.21zM497.37 131.32h2.21v2.3h-2.21zM495.32 133.42h2.21v2.3h-2.21zM497.37 135.52h2.21v2.3h-2.21zM495.32 137.62h2.21v2.3h-2.21zM497.37 139.72h2.21v2.3h-2.21zM495.32 141.82h2.21v2.3h-2.21zM497.37 143.92h2.21v2.3h-2.21zM495.32 146.02h2.21v2.3h-2.21zM497.37 148.12h2.21v2.3h-2.21zM495.32 150.22h2.21v2.3h-2.21zM497.37 152.32h2.21v2.3h-2.21zM495.32 154.42h2.21v2.3h-2.21zM497.37 156.52h2.21v2.3h-2.21zM495.32 158.62h2.21v2.3h-2.21zM497.37 160.72h2.21v0.56h-2.21z" fill="#fff"/>
<rect x="499.3" y="100.8" width="5.3" height="48.4" fill="#0070c0"/>
<path d="M499.82 101.12h2.21v2.2h-2.21zM501.87 103.12h2.21v2.3h-2.21zM499.82 105.22h2.21v2.3h-2.21zM501.87 107.32h2.21v2.3h-2.21zM499.82 109.42h2.21v2.3h-2.21zM501.87 111.52h2.21v2.3h-2.21zM499.82 113.62h2.21v2.3h-2.21zM501.87 115.72h2.21v2.3h-2.21zM499.82 117.82h2.21v2.3h-2.21zM501.87 119.92h2.21v2.3h-2.21zM499.82 122.02h2.21v2.3h-2.21zM501.87 124.12h2.21v2.3h-2.21zM499.82 126.22h2.21v2.3h-2.21zM501.87 128.32h2.21v2.3h-2.21zM499.82 130.42h2.21v2.3h-2.21zM501.87 132.52h2.21v2.3h-2.21zM499.82 134.62h2.21v2.3h-2.21zM501.87 136.72h2.21v2.3h-2.21zM499.82 138.82h2.21v2.3h-2.21zM501.87 140.92h2.21v2.3h-2.21zM499.82 143.02h2.21v2.3h-2.21zM501.87 145.12h2.21v2.3h-2.21zM499.82 147.22h2.21v1.66h-2.21z" fill="#fff"/>
<rect x="412.8" y="58.8" width="93.6" height="129.5" fill="none" stroke="#5a5a5a" stroke-width="1.15"/>
<line x1="412.8" y1="125" x2="412.8" y2="187.8" stroke="#b4b4b4" stroke-width="1.05"/>
<line x1="412.8" y1="71.9" x2="414.8" y2="71.9" stroke="#6e6e6e" stroke-width="0.8"/>
<text transform="translate(405.2,71.9) rotate(-90)" text-anchor="middle" font-size="7.9" fill="#222" text-rendering="geometricPrecision">100</text>
<line x1="412.8" y1="97.7" x2="414.8" y2="97.7" stroke="#6e6e6e" stroke-width="0.8"/>
<text transform="translate(405.2,97.7) rotate(-90)" text-anchor="middle" font-size="7.9" fill="#222" text-rendering="geometricPrecision">50</text>
<line x1="412.8" y1="124.4" x2="414.8" y2="124.4" stroke="#6e6e6e" stroke-width="0.8"/>
<text transform="translate(405.2,124.4) rotate(-90)" text-anchor="middle" font-size="7.9" fill="#222" text-rendering="geometricPrecision">0</text>
<line x1="412.8" y1="150" x2="414.8" y2="150" stroke="#6e6e6e" stroke-width="0.8"/>
<text transform="translate(405.2,150) rotate(-90)" text-anchor="middle" font-size="7.9" fill="#222" text-rendering="geometricPrecision">50</text>
<line x1="412.8" y1="175.3" x2="414.8" y2="175.3" stroke="#6e6e6e" stroke-width="0.8"/>
<text transform="translate(405.2,175.3) rotate(-90)" text-anchor="middle" font-size="7.9" fill="#222" text-rendering="geometricPrecision">100</text>
<line x1="591.6" y1="117.67" x2="683.5" y2="117.67" stroke="#ececec" stroke-width="0.8"/>
<line x1="591.6" y1="111.05" x2="683.5" y2="111.05" stroke="#ececec" stroke-width="0.8"/>
<line x1="591.6" y1="104.42" x2="683.5" y2="104.42" stroke="#ececec" stroke-width="0.8"/>
<line x1="591.6" y1="97.8" x2="683.5" y2="97.8" stroke="#ececec" stroke-width="0.8"/>
<line x1="591.6" y1="91.17" x2="683.5" y2="91.17" stroke="#ececec" stroke-width="0.8"/>
<line x1="591.6" y1="84.55" x2="683.5" y2="84.55" stroke="#ececec" stroke-width="0.8"/>
<line x1="591.6" y1="77.92" x2="683.5" y2="77.92" stroke="#ececec" stroke-width="0.8"/>
<line x1="591.6" y1="71.3" x2="683.5" y2="71.3" stroke="#ececec" stroke-width="0.8"/>
<line x1="591.6" y1="64.67" x2="683.5" y2="64.67" stroke="#ececec" stroke-width="0.8"/>
<line x1="591.6" y1="130.7" x2="683.5" y2="130.7" stroke="#ececec" stroke-width="0.8"/>
<line x1="591.6" y1="137.1" x2="683.5" y2="137.1" stroke="#ececec" stroke-width="0.8"/>
<line x1="591.6" y1="143.5" x2="683.5" y2="143.5" stroke="#ececec" stroke-width="0.8"/>
<line x1="591.6" y1="149.9" x2="683.5" y2="149.9" stroke="#ececec" stroke-width="0.8"/>
<line x1="591.6" y1="156.3" x2="683.5" y2="156.3" stroke="#ececec" stroke-width="0.8"/>
<line x1="591.6" y1="162.7" x2="683.5" y2="162.7" stroke="#ececec" stroke-width="0.8"/>
<line x1="591.6" y1="169.1" x2="683.5" y2="169.1" stroke="#ececec" stroke-width="0.8"/>
<line x1="591.6" y1="175.5" x2="683.5" y2="175.5" stroke="#ececec" stroke-width="0.8"/>
<line x1="591.6" y1="181.9" x2="683.5" y2="181.9" stroke="#ececec" stroke-width="0.8"/>
<line x1="591.6" y1="71.3" x2="683.5" y2="71.3" stroke="#8a8a8a" stroke-width="0.9" stroke-dasharray="2.85 1"/>
<line x1="591.6" y1="175.5" x2="683.5" y2="175.5" stroke="#8a8a8a" stroke-width="0.9" stroke-dasharray="2.85 1"/>
<line x1="591.6" y1="124.3" x2="683.5" y2="124.3" stroke="#5c5c5c" stroke-width="1.05"/>
<rect x="593.8" y="71.3" width="4.5" height="104.2" fill="#ff0000"/>
<rect x="598.3" y="71.3" width="4.5" height="104.2" fill="#00b050"/>
<rect x="602.8" y="71.3" width="4.5" height="104.2" fill="#0070c0"/>
<rect x="624.4" y="76.8" width="4.5" height="93.2" fill="#ff0000"/>
<rect x="628.9" y="89" width="4.5" height="68.7" fill="#00b050"/>
<rect x="633.4" y="77.7" width="4.5" height="91.7" fill="#0070c0"/>
<rect x="655.1" y="98.8" width="4.5" height="50" fill="#ff0000"/>
<rect x="659.6" y="96.1" width="4.5" height="54.3" fill="#00b050"/>
<rect x="664.1" y="99" width="4.5" height="50.4" fill="#0070c0"/>
<line x1="591.6" y1="124.3" x2="683.5" y2="124.3" stroke="#000" stroke-opacity="0.22" stroke-width="1.1"/>
<rect x="606.9" y="71.1" width="5.3" height="104.6" fill="#ff0000"/>
<path d="M607.42 71.42h2.21v2.2h-2.21zM609.47 73.42h2.21v2.3h-2.21zM607.42 75.52h2.21v2.3h-2.21zM609.47 77.62h2.21v2.3h-2.21zM607.42 79.72h2.21v2.3h-2.21zM609.47 81.82h2.21v2.3h-2.21zM607.42 83.92h2.21v2.3h-2.21zM609.47 86.02h2.21v2.3h-2.21zM607.42 88.12h2.21v2.3h-2.21zM609.47 90.22h2.21v2.3h-2.21zM607.42 92.32h2.21v2.3h-2.21zM609.47 94.42h2.21v2.3h-2.21zM607.42 96.52h2.21v2.3h-2.21zM609.47 98.62h2.21v2.3h-2.21zM607.42 100.72h2.21v2.3h-2.21zM609.47 102.82h2.21v2.3h-2.21zM607.42 104.92h2.21v2.3h-2.21zM609.47 107.02h2.21v2.3h-2.21zM607.42 109.12h2.21v2.3h-2.21zM609.47 111.22h2.21v2.3h-2.21zM607.42 113.32h2.21v2.3h-2.21zM609.47 115.42h2.21v2.3h-2.21zM607.42 117.52h2.21v2.3h-2.21zM609.47 119.62h2.21v2.3h-2.21zM607.42 121.72h2.21v2.3h-2.21zM609.47 123.82h2.21v2.3h-2.21zM607.42 125.92h2.21v2.3h-2.21zM609.47 128.02h2.21v2.3h-2.21zM607.42 130.12h2.21v2.3h-2.21zM609.47 132.22h2.21v2.3h-2.21zM607.42 134.32h2.21v2.3h-2.21zM609.47 136.42h2.21v2.3h-2.21zM607.42 138.52h2.21v2.3h-2.21zM609.47 140.62h2.21v2.3h-2.21zM607.42 142.72h2.21v2.3h-2.21zM609.47 144.82h2.21v2.3h-2.21zM607.42 146.92h2.21v2.3h-2.21zM609.47 149.02h2.21v2.3h-2.21zM607.42 151.12h2.21v2.3h-2.21zM609.47 153.22h2.21v2.3h-2.21zM607.42 155.32h2.21v2.3h-2.21zM609.47 157.42h2.21v2.3h-2.21zM607.42 159.52h2.21v2.3h-2.21zM609.47 161.62h2.21v2.3h-2.21zM607.42 163.72h2.21v2.3h-2.21zM609.47 165.82h2.21v2.3h-2.21zM607.42 167.92h2.21v2.3h-2.21zM609.47 170.02h2.21v2.3h-2.21zM607.42 172.12h2.21v2.3h-2.21zM609.47 174.22h2.21v1.16h-2.21z" fill="#fff"/>
<rect x="611.4" y="71.1" width="5.3" height="104.6" fill="#00b050"/>
<path d="M611.92 71.42h2.21v2.2h-2.21zM613.97 73.42h2.21v2.3h-2.21zM611.92 75.52h2.21v2.3h-2.21zM613.97 77.62h2.21v2.3h-2.21zM611.92 79.72h2.21v2.3h-2.21zM613.97 81.82h2.21v2.3h-2.21zM611.92 83.92h2.21v2.3h-2.21zM613.97 86.02h2.21v2.3h-2.21zM611.92 88.12h2.21v2.3h-2.21zM613.97 90.22h2.21v2.3h-2.21zM611.92 92.32h2.21v2.3h-2.21zM613.97 94.42h2.21v2.3h-2.21zM611.92 96.52h2.21v2.3h-2.21zM613.97 98.62h2.21v2.3h-2.21zM611.92 100.72h2.21v2.3h-2.21zM613.97 102.82h2.21v2.3h-2.21zM611.92 104.92h2.21v2.3h-2.21zM613.97 107.02h2.21v2.3h-2.21zM611.92 109.12h2.21v2.3h-2.21zM613.97 111.22h2.21v2.3h-2.21zM611.92 113.32h2.21v2.3h-2.21zM613.97 115.42h2.21v2.3h-2.21zM611.92 117.52h2.21v2.3h-2.21zM613.97 119.62h2.21v2.3h-2.21zM611.92 121.72h2.21v2.3h-2.21zM613.97 123.82h2.21v2.3h-2.21zM611.92 125.92h2.21v2.3h-2.21zM613.97 128.02h2.21v2.3h-2.21zM611.92 130.12h2.21v2.3h-2.21zM613.97 132.22h2.21v2.3h-2.21zM611.92 134.32h2.21v2.3h-2.21zM613.97 136.42h2.21v2.3h-2.21zM611.92 138.52h2.21v2.3h-2.21zM613.97 140.62h2.21v2.3h-2.21zM611.92 142.72h2.21v2.3h-2.21zM613.97 144.82h2.21v2.3h-2.21zM611.92 146.92h2.21v2.3h-2.21zM613.97 149.02h2.21v2.3h-2.21zM611.92 151.12h2.21v2.3h-2.21zM613.97 153.22h2.21v2.3h-2.21zM611.92 155.32h2.21v2.3h-2.21zM613.97 157.42h2.21v2.3h-2.21zM611.92 159.52h2.21v2.3h-2.21zM613.97 161.62h2.21v2.3h-2.21zM611.92 163.72h2.21v2.3h-2.21zM613.97 165.82h2.21v2.3h-2.21zM611.92 167.92h2.21v2.3h-2.21zM613.97 170.02h2.21v2.3h-2.21zM611.92 172.12h2.21v2.3h-2.21zM613.97 174.22h2.21v1.16h-2.21z" fill="#fff"/>
<rect x="615.9" y="71.1" width="5.3" height="104.6" fill="#0070c0"/>
<path d="M616.42 71.42h2.21v2.2h-2.21zM618.47 73.42h2.21v2.3h-2.21zM616.42 75.52h2.21v2.3h-2.21zM618.47 77.62h2.21v2.3h-2.21zM616.42 79.72h2.21v2.3h-2.21zM618.47 81.82h2.21v2.3h-2.21zM616.42 83.92h2.21v2.3h-2.21zM618.47 86.02h2.21v2.3h-2.21zM616.42 88.12h2.21v2.3h-2.21zM618.47 90.22h2.21v2.3h-2.21zM616.42 92.32h2.21v2.3h-2.21zM618.47 94.42h2.21v2.3h-2.21zM616.42 96.52h2.21v2.3h-2.21zM618.47 98.62h2.21v2.3h-2.21zM616.42 100.72h2.21v2.3h-2.21zM618.47 102.82h2.21v2.3h-2.21zM616.42 104.92h2.21v2.3h-2.21zM618.47 107.02h2.21v2.3h-2.21zM616.42 109.12h2.21v2.3h-2.21zM618.47 111.22h2.21v2.3h-2.21zM616.42 113.32h2.21v2.3h-2.21zM618.47 115.42h2.21v2.3h-2.21zM616.42 117.52h2.21v2.3h-2.21zM618.47 119.62h2.21v2.3h-2.21zM616.42 121.72h2.21v2.3h-2.21zM618.47 123.82h2.21v2.3h-2.21zM616.42 125.92h2.21v2.3h-2.21zM618.47 128.02h2.21v2.3h-2.21zM616.42 130.12h2.21v2.3h-2.21zM618.47 132.22h2.21v2.3h-2.21zM616.42 134.32h2.21v2.3h-2.21zM618.47 136.42h2.21v2.3h-2.21zM616.42 138.52h2.21v2.3h-2.21zM618.47 140.62h2.21v2.3h-2.21zM616.42 142.72h2.21v2.3h-2.21zM618.47 144.82h2.21v2.3h-2.21zM616.42 146.92h2.21v2.3h-2.21zM618.47 149.02h2.21v2.3h-2.21zM616.42 151.12h2.21v2.3h-2.21zM618.47 153.22h2.21v2.3h-2.21zM616.42 155.32h2.21v2.3h-2.21zM618.47 157.42h2.21v2.3h-2.21zM616.42 159.52h2.21v2.3h-2.21zM618.47 161.62h2.21v2.3h-2.21zM616.42 163.72h2.21v2.3h-2.21zM618.47 165.82h2.21v2.3h-2.21zM616.42 167.92h2.21v2.3h-2.21zM618.47 170.02h2.21v2.3h-2.21zM616.42 172.12h2.21v2.3h-2.21zM618.47 174.22h2.21v1.16h-2.21z" fill="#fff"/>
<rect x="637.5" y="78.8" width="5.3" height="88.4" fill="#ff0000"/>
<path d="M638.02 79.12h2.21v2.2h-2.21zM640.07 81.12h2.21v2.3h-2.21zM638.02 83.22h2.21v2.3h-2.21zM640.07 85.32h2.21v2.3h-2.21zM638.02 87.42h2.21v2.3h-2.21zM640.07 89.52h2.21v2.3h-2.21zM638.02 91.62h2.21v2.3h-2.21zM640.07 93.72h2.21v2.3h-2.21zM638.02 95.82h2.21v2.3h-2.21zM640.07 97.92h2.21v2.3h-2.21zM638.02 100.02h2.21v2.3h-2.21zM640.07 102.12h2.21v2.3h-2.21zM638.02 104.22h2.21v2.3h-2.21zM640.07 106.32h2.21v2.3h-2.21zM638.02 108.42h2.21v2.3h-2.21zM640.07 110.52h2.21v2.3h-2.21zM638.02 112.62h2.21v2.3h-2.21zM640.07 114.72h2.21v2.3h-2.21zM638.02 116.82h2.21v2.3h-2.21zM640.07 118.92h2.21v2.3h-2.21zM638.02 121.02h2.21v2.3h-2.21zM640.07 123.12h2.21v2.3h-2.21zM638.02 125.22h2.21v2.3h-2.21zM640.07 127.32h2.21v2.3h-2.21zM638.02 129.42h2.21v2.3h-2.21zM640.07 131.52h2.21v2.3h-2.21zM638.02 133.62h2.21v2.3h-2.21zM640.07 135.72h2.21v2.3h-2.21zM638.02 137.82h2.21v2.3h-2.21zM640.07 139.92h2.21v2.3h-2.21zM638.02 142.02h2.21v2.3h-2.21zM640.07 144.12h2.21v2.3h-2.21zM638.02 146.22h2.21v2.3h-2.21zM640.07 148.32h2.21v2.3h-2.21zM638.02 150.42h2.21v2.3h-2.21zM640.07 152.52h2.21v2.3h-2.21zM638.02 154.62h2.21v2.3h-2.21zM640.07 156.72h2.21v2.3h-2.21zM638.02 158.82h2.21v2.3h-2.21zM640.07 160.92h2.21v2.3h-2.21zM638.02 163.02h2.21v2.3h-2.21zM640.07 165.12h2.21v1.76h-2.21z" fill="#fff"/>
<rect x="642" y="75.8" width="5.3" height="95.2" fill="#00b050"/>
<path d="M642.52 76.12h2.21v2.2h-2.21zM644.57 78.12h2.21v2.3h-2.21zM642.52 80.22h2.21v2.3h-2.21zM644.57 82.32h2.21v2.3h-2.21zM642.52 84.42h2.21v2.3h-2.21zM644.57 86.52h2.21v2.3h-2.21zM642.52 88.62h2.21v2.3h-2.21zM644.57 90.72h2.21v2.3h-2.21zM642.52 92.82h2.21v2.3h-2.21zM644.57 94.92h2.21v2.3h-2.21zM642.52 97.02h2.21v2.3h-2.21zM644.57 99.12h2.21v2.3h-2.21zM642.52 101.22h2.21v2.3h-2.21zM644.57 103.32h2.21v2.3h-2.21zM642.52 105.42h2.21v2.3h-2.21zM644.57 107.52h2.21v2.3h-2.21zM642.52 109.62h2.21v2.3h-2.21zM644.57 111.72h2.21v2.3h-2.21zM642.52 113.82h2.21v2.3h-2.21zM644.57 115.92h2.21v2.3h-2.21zM642.52 118.02h2.21v2.3h-2.21zM644.57 120.12h2.21v2.3h-2.21zM642.52 122.22h2.21v2.3h-2.21zM644.57 124.32h2.21v2.3h-2.21zM642.52 126.42h2.21v2.3h-2.21zM644.57 128.52h2.21v2.3h-2.21zM642.52 130.62h2.21v2.3h-2.21zM644.57 132.72h2.21v2.3h-2.21zM642.52 134.82h2.21v2.3h-2.21zM644.57 136.92h2.21v2.3h-2.21zM642.52 139.02h2.21v2.3h-2.21zM644.57 141.12h2.21v2.3h-2.21zM642.52 143.22h2.21v2.3h-2.21zM644.57 145.32h2.21v2.3h-2.21zM642.52 147.42h2.21v2.3h-2.21zM644.57 149.52h2.21v2.3h-2.21zM642.52 151.62h2.21v2.3h-2.21zM644.57 153.72h2.21v2.3h-2.21zM642.52 155.82h2.21v2.3h-2.21zM644.57 157.92h2.21v2.3h-2.21zM642.52 160.02h2.21v2.3h-2.21zM644.57 162.12h2.21v2.3h-2.21zM642.52 164.22h2.21v2.3h-2.21zM644.57 166.32h2.21v2.3h-2.21zM642.52 168.42h2.21v2.26h-2.21z" fill="#fff"/>
<rect x="646.5" y="78.6" width="5.3" height="90" fill="#0070c0"/>
<path d="M647.02 78.92h2.21v2.2h-2.21zM649.07 80.92h2.21v2.3h-2.21zM647.02 83.02h2.21v2.3h-2.21zM649.07 85.12h2.21v2.3h-2.21zM647.02 87.22h2.21v2.3h-2.21zM649.07 89.32h2.21v2.3h-2.21zM647.02 91.42h2.21v2.3h-2.21zM649.07 93.52h2.21v2.3h-2.21zM647.02 95.62h2.21v2.3h-2.21zM649.07 97.72h2.21v2.3h-2.21zM647.02 99.82h2.21v2.3h-2.21zM649.07 101.92h2.21v2.3h-2.21zM647.02 104.02h2.21v2.3h-2.21zM649.07 106.12h2.21v2.3h-2.21zM647.02 108.22h2.21v2.3h-2.21zM649.07 110.32h2.21v2.3h-2.21zM647.02 112.42h2.21v2.3h-2.21zM649.07 114.52h2.21v2.3h-2.21zM647.02 116.62h2.21v2.3h-2.21zM649.07 118.72h2.21v2.3h-2.21zM647.02 120.82h2.21v2.3h-2.21zM649.07 122.92h2.21v2.3h-2.21zM647.02 125.02h2.21v2.3h-2.21zM649.07 127.12h2.21v2.3h-2.21zM647.02 129.22h2.21v2.3h-2.21zM649.07 131.32h2.21v2.3h-2.21zM647.02 133.42h2.21v2.3h-2.21zM649.07 135.52h2.21v2.3h-2.21zM647.02 137.62h2.21v2.3h-2.21zM649.07 139.72h2.21v2.3h-2.21zM647.02 141.82h2.21v2.3h-2.21zM649.07 143.92h2.21v2.3h-2.21zM647.02 146.02h2.21v2.3h-2.21zM649.07 148.12h2.21v2.3h-2.21zM647.02 150.22h2.21v2.3h-2.21zM649.07 152.32h2.21v2.3h-2.21zM647.02 154.42h2.21v2.3h-2.21zM649.07 156.52h2.21v2.3h-2.21zM647.02 158.62h2.21v2.3h-2.21zM649.07 160.72h2.21v2.3h-2.21zM647.02 162.82h2.21v2.3h-2.21zM649.07 164.92h2.21v2.3h-2.21zM647.02 167.02h2.21v1.26h-2.21z" fill="#fff"/>
<rect x="668.2" y="98.8" width="5.3" height="49.1" fill="#ff0000"/>
<path d="M668.72 99.12h2.21v2.2h-2.21zM670.77 101.12h2.21v2.3h-2.21zM668.72 103.22h2.21v2.3h-2.21zM670.77 105.32h2.21v2.3h-2.21zM668.72 107.42h2.21v2.3h-2.21zM670.77 109.52h2.21v2.3h-2.21zM668.72 111.62h2.21v2.3h-2.21zM670.77 113.72h2.21v2.3h-2.21zM668.72 115.82h2.21v2.3h-2.21zM670.77 117.92h2.21v2.3h-2.21zM668.72 120.02h2.21v2.3h-2.21zM670.77 122.12h2.21v2.3h-2.21zM668.72 124.22h2.21v2.3h-2.21zM670.77 126.32h2.21v2.3h-2.21zM668.72 128.42h2.21v2.3h-2.21zM670.77 130.52h2.21v2.3h-2.21zM668.72 132.62h2.21v2.3h-2.21zM670.77 134.72h2.21v2.3h-2.21zM668.72 136.82h2.21v2.3h-2.21zM670.77 138.92h2.21v2.3h-2.21zM668.72 141.02h2.21v2.3h-2.21zM670.77 143.12h2.21v2.3h-2.21zM668.72 145.22h2.21v2.3h-2.21z" fill="#fff"/>
<rect x="672.7" y="77.2" width="5.3" height="90.7" fill="#00b050"/>
<path d="M673.22 77.52h2.21v2.2h-2.21zM675.27 79.52h2.21v2.3h-2.21zM673.22 81.62h2.21v2.3h-2.21zM675.27 83.72h2.21v2.3h-2.21zM673.22 85.82h2.21v2.3h-2.21zM675.27 87.92h2.21v2.3h-2.21zM673.22 90.02h2.21v2.3h-2.21zM675.27 92.12h2.21v2.3h-2.21zM673.22 94.22h2.21v2.3h-2.21zM675.27 96.32h2.21v2.3h-2.21zM673.22 98.42h2.21v2.3h-2.21zM675.27 100.52h2.21v2.3h-2.21zM673.22 102.62h2.21v2.3h-2.21zM675.27 104.72h2.21v2.3h-2.21zM673.22 106.82h2.21v2.3h-2.21zM675.27 108.92h2.21v2.3h-2.21zM673.22 111.02h2.21v2.3h-2.21zM675.27 113.12h2.21v2.3h-2.21zM673.22 115.22h2.21v2.3h-2.21zM675.27 117.32h2.21v2.3h-2.21zM673.22 119.42h2.21v2.3h-2.21zM675.27 121.52h2.21v2.3h-2.21zM673.22 123.62h2.21v2.3h-2.21zM675.27 125.72h2.21v2.3h-2.21zM673.22 127.82h2.21v2.3h-2.21zM675.27 129.92h2.21v2.3h-2.21zM673.22 132.02h2.21v2.3h-2.21zM675.27 134.12h2.21v2.3h-2.21zM673.22 136.22h2.21v2.3h-2.21zM675.27 138.32h2.21v2.3h-2.21zM673.22 140.42h2.21v2.3h-2.21zM675.27 142.52h2.21v2.3h-2.21zM673.22 144.62h2.21v2.3h-2.21zM675.27 146.72h2.21v2.3h-2.21zM673.22 148.82h2.21v2.3h-2.21zM675.27 150.92h2.21v2.3h-2.21zM673.22 153.02h2.21v2.3h-2.21zM675.27 155.12h2.21v2.3h-2.21zM673.22 157.22h2.21v2.3h-2.21zM675.27 159.32h2.21v2.3h-2.21zM673.22 161.42h2.21v2.3h-2.21zM675.27 163.52h2.21v2.3h-2.21zM673.22 165.62h2.21v1.96h-2.21z" fill="#fff"/>
<rect x="677.2" y="97.8" width="5.3" height="53" fill="#0070c0"/>
<path d="M677.72 98.12h2.21v2.2h-2.21zM679.77 100.12h2.21v2.3h-2.21zM677.72 102.22h2.21v2.3h-2.21zM679.77 104.32h2.21v2.3h-2.21zM677.72 106.42h2.21v2.3h-2.21zM679.77 108.52h2.21v2.3h-2.21zM677.72 110.62h2.21v2.3h-2.21zM679.77 112.72h2.21v2.3h-2.21zM677.72 114.82h2.21v2.3h-2.21zM679.77 116.92h2.21v2.3h-2.21zM677.72 119.02h2.21v2.3h-2.21zM679.77 121.12h2.21v2.3h-2.21zM677.72 123.22h2.21v2.3h-2.21zM679.77 125.32h2.21v2.3h-2.21zM677.72 127.42h2.21v2.3h-2.21zM679.77 129.52h2.21v2.3h-2.21zM677.72 131.62h2.21v2.3h-2.21zM679.77 133.72h2.21v2.3h-2.21zM677.72 135.82h2.21v2.3h-2.21zM679.77 137.92h2.21v2.3h-2.21zM677.72 140.02h2.21v2.3h-2.21zM679.77 142.12h2.21v2.3h-2.21zM677.72 144.22h2.21v2.3h-2.21zM679.77 146.32h2.21v2.3h-2.21zM677.72 148.42h2.21v2.06h-2.21z" fill="#fff"/>
<rect x="591.6" y="58.3" width="91.9" height="130.1" fill="none" stroke="#5a5a5a" stroke-width="1.15"/>
<line x1="683.5" y1="58.9" x2="683.5" y2="187.8" stroke="#c4c4c4" stroke-width="1.2"/>
<line x1="591.6" y1="124.9" x2="591.6" y2="187.9" stroke="#b4b4b4" stroke-width="1.05"/>
<line x1="591.6" y1="71.3" x2="593.6" y2="71.3" stroke="#6e6e6e" stroke-width="0.8"/>
<text transform="translate(583.8,71.3) rotate(-90)" text-anchor="middle" font-size="7.9" fill="#222" text-rendering="geometricPrecision">100</text>
<line x1="591.6" y1="97.2" x2="593.6" y2="97.2" stroke="#6e6e6e" stroke-width="0.8"/>
<text transform="translate(583.8,97.2) rotate(-90)" text-anchor="middle" font-size="7.9" fill="#222" text-rendering="geometricPrecision">50</text>
<line x1="591.6" y1="124.3" x2="593.6" y2="124.3" stroke="#6e6e6e" stroke-width="0.8"/>
<text transform="translate(583.8,124.3) rotate(-90)" text-anchor="middle" font-size="7.9" fill="#222" text-rendering="geometricPrecision">0</text>
<line x1="591.6" y1="150" x2="593.6" y2="150" stroke="#6e6e6e" stroke-width="0.8"/>
<text transform="translate(583.8,150) rotate(-90)" text-anchor="middle" font-size="7.9" fill="#222" text-rendering="geometricPrecision">50</text>
<line x1="591.6" y1="175.5" x2="593.6" y2="175.5" stroke="#6e6e6e" stroke-width="0.8"/>
<text transform="translate(583.8,175.5) rotate(-90)" text-anchor="middle" font-size="7.9" fill="#222" text-rendering="geometricPrecision">100</text>
<rect x="330.6" y="1.6" width="95.8" height="39.4" fill="#fff" stroke="#505050" stroke-width="1"/>
<rect x="337" y="8.2" width="9.6" height="9.2" fill="#7f7f7f"/>
<text x="354.1" y="17.4" font-size="13.7" font-weight="bold" font-style="italic" fill="#000">Flexion</text>
<g transform="translate(336.9,25.3)"><rect x="-0.5" y="-0.5" width="9.3" height="9.3" fill="url(#pk)" stroke="#808080" stroke-width="0.9"/></g>
<text x="353.6" y="34.9" font-size="13.9" font-weight="bold" font-style="italic" fill="#808080">Extension</text>
<line x1="379.9" y1="41.5" x2="379.9" y2="244" stroke="#a0a0a0" stroke-width="1" stroke-dasharray="2 2"/>
<text x="169" y="33.7" font-size="13" font-style="italic" fill="#222">Anterior view:</text>
<line x1="169" y1="35.5" x2="244.4" y2="35.5" stroke="#333" stroke-width="0.9"/>
<text x="502.4" y="33.9" font-size="13" font-style="italic" fill="#222">Posterior view:</text>
<line x1="502.4" y1="35.7" x2="582.5" y2="35.7" stroke="#333" stroke-width="0.9"/>
<text x="74.7" y="52.7" font-size="10" font-style="italic" fill="#222">a) ROI</text>
<text x="300.3" y="52.5" font-size="10" font-style="italic" fill="#222">b) ROI</text>
<text x="437.4" y="52.7" font-size="10" font-style="italic" fill="#222">c) left rod</text>
<text x="613.9" y="52.5" font-size="10" font-style="italic" fill="#222">d) right rod</text>
<text transform="translate(6.9,179.1) rotate(-90)" font-size="9.25" font-weight="bold" font-style="italic" fill="#111" textLength="117.6" lengthAdjust="spacingAndGlyphs">Strains on L4 VB (% of Intact)</text>
<text transform="translate(232.6,191.2) rotate(-90)" font-size="9.25" font-weight="bold" font-style="italic" fill="#111" textLength="135.4" lengthAdjust="spacingAndGlyphs">Strains on L4-L5 IVD (% of Intact)</text>
<text transform="translate(393.0,188.1) rotate(-90)" font-size="9.25" font-weight="bold" font-style="italic" fill="#111" textLength="131.4" lengthAdjust="spacingAndGlyphs">Primary rods strains (% of PSO-2)</text>
<text transform="translate(46.9,215) rotate(-90)" text-anchor="middle" font-size="8.55" font-weight="bold" font-style="italic" fill="#111">Intact</text>
<text transform="translate(77.3,215) rotate(-90)" text-anchor="middle" font-size="8.55" font-weight="bold" font-style="italic" fill="#111">PSO-2</text>
<text transform="translate(107.2,215) rotate(-90)" text-anchor="middle" font-size="8.55" font-weight="bold" font-style="italic" fill="#111">PSO-2+Cages</text>
<text transform="translate(136.0,215) rotate(-90)" text-anchor="middle" font-size="8.55" font-weight="bold" font-style="italic" fill="#111">PSO-4+Cages</text>
<text transform="translate(273.3,215) rotate(-90)" text-anchor="middle" font-size="8.55" font-weight="bold" font-style="italic" fill="#111">Intact</text>
<text transform="translate(303.4,215) rotate(-90)" text-anchor="middle" font-size="8.55" font-weight="bold" font-style="italic" fill="#111">PSO-2</text>
<text transform="translate(333.0,215) rotate(-90)" text-anchor="middle" font-size="8.55" font-weight="bold" font-style="italic" fill="#111">PSO-2+Cages</text>
<text transform="translate(362.3,215) rotate(-90)" text-anchor="middle" font-size="8.55" font-weight="bold" font-style="italic" fill="#111">PSO-4+Cages</text>
<text transform="translate(434.3,215) rotate(-90)" text-anchor="middle" font-size="8.55" font-weight="bold" font-style="italic" fill="#111">PSO-2</text>
<text transform="translate(463.2,215) rotate(-90)" text-anchor="middle" font-size="8.55" font-weight="bold" font-style="italic" fill="#111">PSO-2+Cages</text>
<text transform="translate(493.6,215) rotate(-90)" text-anchor="middle" font-size="8.55" font-weight="bold" font-style="italic" fill="#111">PSO-4+Cages</text>
<text transform="translate(611.0,215) rotate(-90)" text-anchor="middle" font-size="8.55" font-weight="bold" font-style="italic" fill="#111">PSO-2</text>
<text transform="translate(640.6,215) rotate(-90)" text-anchor="middle" font-size="8.55" font-weight="bold" font-style="italic" fill="#111">PSO-2+Cages</text>
<text transform="translate(671.5,215) rotate(-90)" text-anchor="middle" font-size="8.55" font-weight="bold" font-style="italic" fill="#111">PSO-4+Cages</text>
<rect x="257.6" y="251.9" width="6.3" height="6.8" fill="#ff0000"/>
<text x="267.3" y="258.9" font-size="10.6" fill="#ff0000" textLength="51.4" lengthAdjust="spacingAndGlyphs">Specimen #1</text>
<rect x="339.1" y="251.9" width="6.3" height="6.8" fill="#00b050"/>
<text x="349.6" y="258.9" font-size="10.6" fill="#00b050" textLength="51.4" lengthAdjust="spacingAndGlyphs">Specimen #2</text>
<rect x="422.3" y="251.9" width="6.3" height="6.8" fill="#0070c0"/>
<text x="433.1" y="258.9" font-size="10.6" fill="#0070c0" textLength="51.4" lengthAdjust="spacingAndGlyphs">Specimen #3</text>
<g fill="none" stroke="#8c8c8c" stroke-width="0.8">
<path d="M176,76 C180,74.8 185,74.2 190,74.8 C196,75.6 203,77.4 211.3,76"/>
<path d="M176,76 C175.6,80 175.2,84 175.6,87 C175.9,88.5 175,89.5 174.7,90.2"/>
<path d="M211.3,76 C211.5,80 211.6,85 212,90.2"/>
<path d="M174.7,90.2 C186,92 200,92 212,90.2"/>
<path d="M174.7,90.2 C170.5,92.5 169.8,99 174.2,104.5"/>
<path d="M212,90.2 C218,92.5 219,99.5 213.1,104"/>
<path d="M174.2,104.5 C186,107.2 200,107.2 213.1,104"/>
<path d="M174.2,104.5 C177.5,112 177.5,125 175.3,132.3"/>
<path d="M213.1,104 C209.8,112 209.8,125 212.4,132.5"/>
<path d="M175.3,132.3 C187,137 200,137 212.4,132.5"/>
<path d="M175.3,132.3 C170,135.5 169.5,146 175.3,150.7"/>
<path d="M212.4,132.5 C218.5,135.5 219,146 212.4,150"/>
<path d="M175.3,150.7 C187,152.6 200,152.6 212.4,150"/>
<path d="M175.3,150.7 C176,153.5 176.5,156 176.7,158.2 C183,158.5 188,161 195,160.6 C201,160.2 206,158 211.4,158.6 C211.4,156 211.8,153 212.4,150"/>
</g>
<line x1="164" y1="103.9" x2="170.5" y2="103.9" stroke="#c8c8c8" stroke-width="0.8" stroke-dasharray="2 1.2"/>
<line x1="164" y1="134.5" x2="170.5" y2="134.5" stroke="#c8c8c8" stroke-width="0.8" stroke-dasharray="2 1.2"/>
<line x1="164" y1="149.2" x2="170.5" y2="149.2" stroke="#c8c8c8" stroke-width="0.8" stroke-dasharray="2 1.2"/>
<rect x="181.4" y="109.5" width="23.6" height="22.7" fill="none" stroke="#f05a5a" stroke-width="0.8" stroke-dasharray="2 1.3"/>
<rect x="179" y="138" width="27.6" height="11.6" fill="none" stroke="#f05a5a" stroke-width="0.8" stroke-dasharray="2 1.3"/>
<text x="193.2" y="124" text-anchor="middle" font-size="9" font-style="italic" fill="#ee1c1c">(a)</text>
<text x="192.8" y="146.4" text-anchor="middle" font-size="9" font-style="italic" fill="#ee1c1c">(b)</text>
<text x="156.6" y="124.6" font-size="10" fill="#000">L4</text>
<text x="153.8" y="145.4" font-size="10" fill="#000">IVD</text>
<text x="157.6" y="162.6" font-size="10" fill="#808080">L5</text>
<path d="M193.1,72 C193.6,66 193,62.6 191,62.6 C189.2,62.6 188.6,66 188.7,71 L188.4,81" fill="none" stroke="#000" stroke-width="1.7"/>
<path d="M185.2,76 L188.4,81.6 L191.7,76" fill="none" stroke="#000" stroke-width="1.6"/>
<path d="M195.5,80 C195.2,72 195.6,63.4 198,63.4 C200,63.4 199.8,68 199.7,74.5" fill="none" stroke="#7c7c7c" stroke-width="1.5" stroke-dasharray="2.4 1.1"/>
<path d="M196.6,70.6 L199.7,75.2 L202.7,70.6" fill="none" stroke="#7c7c7c" stroke-width="1.4"/>
<g fill="none" stroke="#c4c4c4" stroke-width="0.8">
<path d="M519.5,84 C515,84.5 512.5,87 513.5,90 C514.5,93 517,93.5 519.5,93"/>
<path d="M527,79.5 C530,79 532.5,80 533.5,82.5 C534.5,86 535.5,90 538,91.5 C542,92.8 548,92.5 551,89.5 C552,86 551.5,82 553,80 C555,78.8 557.5,79 559,80"/>
<path d="M566,84 C570,84.5 572.5,87 571.5,90 C570.5,93 568,93.5 566,93"/>
<path d="M527.3,96 C528.5,101 529.5,107 529.5,113.5 C533,112.5 537,111 540,111 L541.8,117.3 L544.5,112 C548,111 552,112 557,113.5 C556.5,107 556,101 555,94.5"/>
<path d="M527,121.5 C537,120.8 548,120.8 558.6,121.5"/>
<path d="M531.2,121.7 C532.5,125 534,129 535,132.4 C540,133 545,133 548.5,132.4 C549.5,129 550.5,125 551.5,121.7"/>
<path d="M519.5,130 C515,131 513,133.5 514,136.5 C515,139 517,140 519.5,139.5"/>
<path d="M566,130 C570,131 572,133.5 571,136.5 C570,139 568,140 566,139.5"/>
<path d="M527.3,142 C528,148 528,153 528.5,158 C531,156.5 534,154.8 537.5,154.6 L541.8,160.2 L545,155 C549,154.8 552,156 556.5,158 C557,153 557.5,148 558.6,142"/>
</g>
<path d="M519.5,163 L519.5,75 L521.5,73.2 L523.25,75.8 L525.8,74.5 L527.0,76.5 L527.0,163 L524.05,161 L522.75,163.5 Z" fill="#fff" stroke="#a8a8a8" stroke-width="0.9"/>
<path d="M559.0,163 L559.0,75 L561.0,73.2 L562.5,75.8 L564.8,74.5 L566.0,76.5 L566.0,163 L563.3,161 L562.0,163.5 Z" fill="#fff" stroke="#a8a8a8" stroke-width="0.9"/>
<circle cx="523.0" cy="89.6" r="5.8" fill="#fff" stroke="#808080" stroke-width="0.9"/>
<circle cx="562.5" cy="89.6" r="5.8" fill="#fff" stroke="#808080" stroke-width="0.9"/>
<circle cx="523.2" cy="136.0" r="5.8" fill="#fff" stroke="#808080" stroke-width="0.9"/>
<circle cx="562.4" cy="136.0" r="5.8" fill="#fff" stroke="#808080" stroke-width="0.9"/>
<rect x="521.4" y="115.4" width="3.7" height="5.8" fill="#fff" stroke="#f04040" stroke-width="0.8"/>
<rect x="560.4" y="115.4" width="3.9" height="5.8" fill="#fff" stroke="#f04040" stroke-width="0.8"/>
<text x="509.8" y="121.6" font-size="8.6" font-style="italic" fill="#ee1c1c">(c)</text>
<text x="566" y="121.6" font-size="8.6" font-style="italic" fill="#ee1c1c">(d)</text>
<path d="M540.8,78 C540.9,73 540.6,70 538.7,70 C536.8,70 536.5,74 536.6,78 L537.2,87" fill="none" stroke="#7c7c7c" stroke-width="1.5" stroke-dasharray="2.4 1.1"/>
<path d="M534.3,82.6 L537.3,87.8 L540.4,82.6" fill="none" stroke="#7c7c7c" stroke-width="1.4"/>
<path d="M543,87 C543.2,80 543,70 545.9,70 C548.6,70 549.2,74 549.2,83" fill="none" stroke="#000" stroke-width="1.6"/>
<path d="M546.2,78 L549.2,83.4 L552.4,78" fill="none" stroke="#000" stroke-width="1.5"/>
</svg></body></html>
